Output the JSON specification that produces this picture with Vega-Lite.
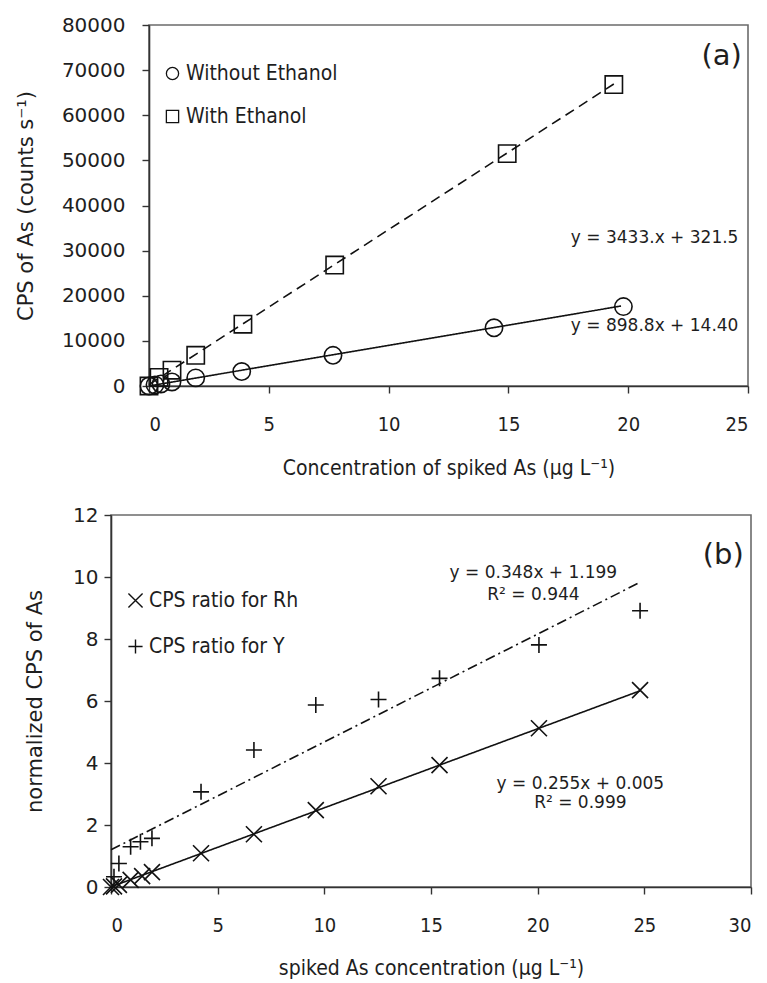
{
  "$schema": "https://vega.github.io/schema/vega-lite/v6.json",
  "background": "white",
  "padding": {"left": 14, "top": 14, "right": 8, "bottom": 2},
  "spacing": 25,
  "align": "none",
  "resolve": {"scale": {"shape": "independent", "strokeDash": "independent"}, "legend": {"shape": "independent", "strokeDash": "independent"}},
  "config": {
    "view": {"stroke": "#6b6b6b", "strokeWidth": 1.6},
    "axis": {
      "grid": false, "domainColor": "#333333", "tickColor": "#333333", "domainWidth": 1.6, "tickWidth": 1.4,
      "tickSize": 7, "labelColor": "#1e1e1e", "titleColor": "#1e1e1e",
      "labelFont": "DejaVu Sans", "titleFont": "DejaVu Sans", "labelFontSize": 20, "titleFontSize": 21, "titleFontWeight": "normal"
    },
    "axisX": {"labelFont": "DejaVu Sans Condensed, Liberation Sans Narrow, DejaVu Sans", "titleFont": "DejaVu Sans Condensed, Liberation Sans Narrow, DejaVu Sans", "labelPadding": 21, "titleFontSize": 21},
    "legend": {"padding": 0, "labelFont": "DejaVu Sans Condensed, Liberation Sans Narrow, DejaVu Sans", "labelFontSize": 21, "labelColor": "#1e1e1e"},
    "text": {"font": "DejaVu Sans", "color": "#1e1e1e"}
  },
  "vconcat": [
    {
      "hconcat": [
        {
          "width": 20,
          "height": 10,
          "view": {"stroke": null},
          "data": {"values": []},
          "mark": "point"
        },
        {
          "width": 599,
          "height": 361,
          "layer": [
            {
              "data": {"values": [
                {"fit": "without", "x": 0, "y": 14.4},
                {"fit": "without", "x": 19.7, "y": 17720},
                {"fit": "with", "x": 0, "y": 321.5},
                {"fit": "with", "x": 19.4, "y": 66922}
              ]},
              "mark": {"type": "line", "color": "#111111", "strokeWidth": 1.6},
              "encoding": {
                "x": {"field": "x", "type": "quantitative", "scale": {"domain": [0, 25], "nice": false},
                  "axis": {"values": [0, 5, 10, 15, 20, 25], "title": "Concentration of spiked As (µg L⁻¹)", "titlePadding": 23}},
                "y": {"field": "y", "type": "quantitative", "scale": {"domain": [0, 80000], "nice": false},
                  "axis": {"values": [0, 10000, 20000, 30000, 40000, 50000, 60000, 70000, 80000], "format": "d", "title": "CPS of As (counts s⁻¹)", "labelPadding": 17, "titlePadding": 25}},
                "detail": {"field": "fit"},
                "strokeDash": {"field": "fit", "type": "nominal", "scale": {"domain": ["without", "with"], "range": [[1, 0], [10, 6]]}, "legend": null}
              }
            },
            {
              "data": {"values": [
                {"s": "Without Ethanol", "x": 0, "y": 0},
                {"s": "Without Ethanol", "x": 0.25, "y": 250},
                {"s": "Without Ethanol", "x": 0.5, "y": 450},
                {"s": "Without Ethanol", "x": 0.96, "y": 900},
                {"s": "Without Ethanol", "x": 1.95, "y": 1800},
                {"s": "Without Ethanol", "x": 3.87, "y": 3200},
                {"s": "Without Ethanol", "x": 7.68, "y": 6800},
                {"s": "Without Ethanol", "x": 14.4, "y": 12900},
                {"s": "Without Ethanol", "x": 19.8, "y": 17600},
                {"s": "With Ethanol", "x": 0, "y": 0},
                {"s": "With Ethanol", "x": 0.42, "y": 1900},
                {"s": "With Ethanol", "x": 0.96, "y": 3500},
                {"s": "With Ethanol", "x": 1.95, "y": 6800},
                {"s": "With Ethanol", "x": 3.92, "y": 13700},
                {"s": "With Ethanol", "x": 7.75, "y": 26800},
                {"s": "With Ethanol", "x": 14.95, "y": 51500},
                {"s": "With Ethanol", "x": 19.4, "y": 66800}
              ]},
              "mark": {"type": "point", "filled": false, "strokeWidth": 1.6, "size": 300, "color": "#111111", "opacity": 1},
              "encoding": {
                "x": {"field": "x", "type": "quantitative"},
                "y": {"field": "y", "type": "quantitative"},
                "shape": {"field": "s", "type": "nominal", "scale": {"domain": ["Without Ethanol", "With Ethanol"], "range": ["circle", "square"]},
                  "legend": {"title": null, "orient": "none", "legendX": 51, "legendY": 38, "symbolSize": 150, "symbolStrokeColor": "#111111", "symbolFillColor": "white", "symbolStrokeWidth": 1.3, "rowPadding": 21, "labelOffset": 3}}
              }
            },
            {
              "data": {"values": [
                {"x": 24.6, "y": 32700, "t": "y = 3433.x + 321.5"},
                {"x": 24.6, "y": 13200, "t": "y = 898.8x + 14.40"}
              ]},
              "mark": {"type": "text", "align": "right", "baseline": "middle", "fontSize": 17},
              "encoding": {"x": {"field": "x", "type": "quantitative"}, "y": {"field": "y", "type": "quantitative"}, "text": {"field": "t"}}
            },
            {
              "data": {"values": [{"x": 23.9, "y": 73200, "t": "(a)"}]},
              "mark": {"type": "text", "align": "center", "baseline": "middle", "fontSize": 29},
              "encoding": {"x": {"field": "x", "type": "quantitative"}, "y": {"field": "y", "type": "quantitative"}, "text": {"field": "t"}}
            }
          ]
        }
      ],
      "spacing": 18,
      "bounds": "flush"
    },
    {
      "width": 640,
      "height": 372,
      "layer": [
        {
          "data": {"values": [
            {"fit": "rh", "x": 0, "y": 0.005},
            {"fit": "rh", "x": 24.8, "y": 6.329},
            {"fit": "y", "x": 0, "y": 1.199},
            {"fit": "y", "x": 24.8, "y": 9.83}
          ]},
          "mark": {"type": "line", "color": "#111111", "strokeWidth": 1.6},
          "encoding": {
            "x": {"field": "x", "type": "quantitative", "scale": {"domain": [0, 30], "nice": false},
              "axis": {"values": [0, 5, 10, 15, 20, 25, 30], "title": "spiked As concentration (µg L⁻¹)", "titlePadding": 22}},
            "y": {"field": "y", "type": "quantitative", "scale": {"domain": [0, 12], "nice": false},
              "axis": {"values": [0, 2, 4, 6, 8, 10, 12], "title": "normalized CPS of As", "labelPadding": 6, "titlePadding": 27}},
            "detail": {"field": "fit"},
            "strokeDash": {"field": "fit", "type": "nominal", "scale": {"domain": ["rh", "y"], "range": [[1, 0], [10, 4, 2, 4]]}, "legend": null}
          }
        },
        {
          "data": {"values": [
            {"s": "CPS ratio for Rh", "x": 0, "y": 0},
            {"s": "CPS ratio for Rh", "x": 0.14, "y": 0.02},
            {"s": "CPS ratio for Rh", "x": 0.37, "y": 0.07},
            {"s": "CPS ratio for Rh", "x": 0.92, "y": 0.23},
            {"s": "CPS ratio for Rh", "x": 1.46, "y": 0.35},
            {"s": "CPS ratio for Rh", "x": 1.92, "y": 0.48},
            {"s": "CPS ratio for Rh", "x": 4.22, "y": 1.09},
            {"s": "CPS ratio for Rh", "x": 6.7, "y": 1.7},
            {"s": "CPS ratio for Rh", "x": 9.6, "y": 2.48},
            {"s": "CPS ratio for Rh", "x": 12.54, "y": 3.25},
            {"s": "CPS ratio for Rh", "x": 15.4, "y": 3.93},
            {"s": "CPS ratio for Rh", "x": 20.06, "y": 5.12},
            {"s": "CPS ratio for Rh", "x": 24.8, "y": 6.35},
            {"s": "CPS ratio for Y", "x": 0.14, "y": 0.33},
            {"s": "CPS ratio for Y", "x": 0.37, "y": 0.76},
            {"s": "CPS ratio for Y", "x": 0.92, "y": 1.3},
            {"s": "CPS ratio for Y", "x": 1.38, "y": 1.46},
            {"s": "CPS ratio for Y", "x": 1.92, "y": 1.57},
            {"s": "CPS ratio for Y", "x": 4.22, "y": 3.07},
            {"s": "CPS ratio for Y", "x": 6.7, "y": 4.42},
            {"s": "CPS ratio for Y", "x": 9.6, "y": 5.87},
            {"s": "CPS ratio for Y", "x": 12.54, "y": 6.05},
            {"s": "CPS ratio for Y", "x": 15.4, "y": 6.73},
            {"s": "CPS ratio for Y", "x": 20.06, "y": 7.81},
            {"s": "CPS ratio for Y", "x": 24.8, "y": 8.91}
          ]},
          "mark": {"type": "point", "filled": false, "strokeWidth": 1.6, "size": 256, "color": "#111111", "opacity": 1},
          "encoding": {
            "x": {"field": "x", "type": "quantitative"},
            "y": {"field": "y", "type": "quantitative"},
            "shape": {"field": "s", "type": "nominal", "scale": {"domain": ["CPS ratio for Rh", "CPS ratio for Y"], "range": ["M-1,-1L1,1M-1,1L1,-1", "M-1,0L1,0M0,-1L0,1"]},
              "legend": {"title": null, "orient": "none", "legendX": 14, "legendY": 75, "symbolSize": 200, "symbolStrokeColor": "#111111", "symbolFillColor": "transparent", "symbolStrokeWidth": 1.4, "rowPadding": 24, "labelOffset": 3}}
          }
        },
        {
          "data": {"values": [
            {"x": 19.8, "y": 10.14, "t": "y = 0.348x + 1.199"},
            {"x": 19.8, "y": 9.42, "t": "R² = 0.944"},
            {"x": 22.0, "y": 3.32, "t": "y = 0.255x + 0.005"},
            {"x": 22.0, "y": 2.72, "t": "R² = 0.999"}
          ]},
          "mark": {"type": "text", "align": "center", "baseline": "middle", "fontSize": 17},
          "encoding": {"x": {"field": "x", "type": "quantitative"}, "y": {"field": "y", "type": "quantitative"}, "text": {"field": "t"}}
        },
        {
          "data": {"values": [{"x": 28.7, "y": 10.7, "t": "(b)"}]},
          "mark": {"type": "text", "align": "center", "baseline": "middle", "fontSize": 29},
          "encoding": {"x": {"field": "x", "type": "quantitative"}, "y": {"field": "y", "type": "quantitative"}, "text": {"field": "t"}}
        }
      ]
    }
  ]
}
